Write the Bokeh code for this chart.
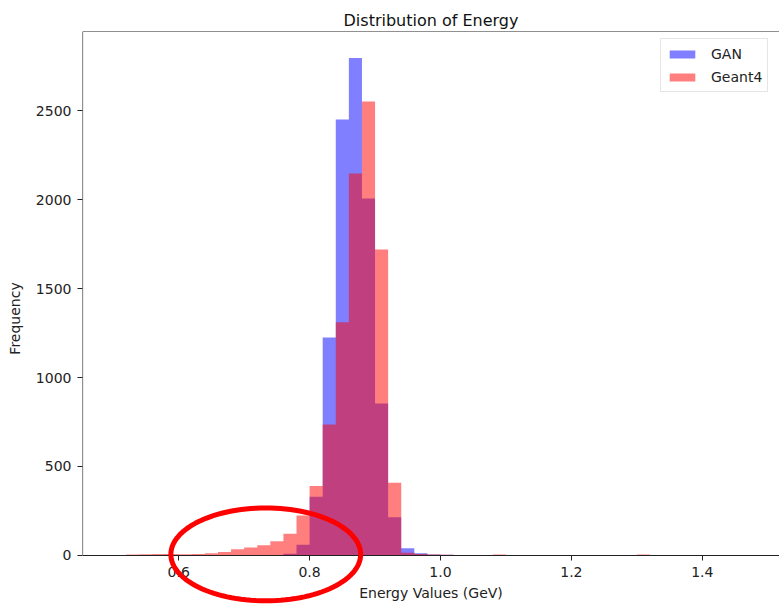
import numpy as np
from bokeh.plotting import figure
from bokeh.models import (FixedTicker, PolyAnnotation, Legend, LegendItem,
                          BoxAnnotation, PrintfTickFormatter)
from bokeh.embed import file_html
from bokeh.resources import INLINE

# ---- data ----
bin_edges = [0.50, 0.52, 0.54, 0.56, 0.58, 0.60, 0.62, 0.64, 0.66, 0.68,
             0.70, 0.72, 0.74, 0.76, 0.78, 0.80, 0.82, 0.84, 0.86, 0.88,
             0.90, 0.92, 0.94, 0.96, 0.98, 1.00, 1.02, 1.04, 1.06, 1.08,
             1.10, 1.12, 1.14, 1.16, 1.18, 1.20, 1.22, 1.24, 1.26, 1.28,
             1.30, 1.32, 1.34, 1.36, 1.38, 1.40, 1.42, 1.44, 1.46, 1.48, 1.50]

gan_counts = [0, 0, 0, 0, 0, 0, 0, 0, 0, 0,
              0, 1, 3, 10, 60, 330, 1225, 2449, 2795, 2006,
              854, 215, 40, 12, 6, 4, 3, 2, 1, 1,
              0, 0, 0, 0, 0, 0, 0, 0, 0, 0,
              0, 0, 0, 0, 0, 0, 0, 0, 0, 0]

geant4_counts = [3, 5, 7, 8, 8, 7, 9, 13, 20, 35,
                 45, 58, 80, 122, 225, 390, 736, 1310, 2146, 2551,
                 1719, 408, 15, 8, 5, 4, 3, 2, 1, 5,
                 1, 0, 0, 0, 0, 0, 0, 0, 0, 0,
                 5, 0, 0, 0, 0, 0, 0, 0, 0, 0]

x_ticks = [0.6, 0.8, 1.0, 1.2, 1.4]
y_ticks = [0, 500, 1000, 1500, 2000, 2500]

title_text = "Distribution of Energy"
x_label = "Energy Values (GeV)"
y_label = "Frequency"
series_names = ["GAN", "Geant4"]

# annotation ellipse (data units)
ell_cx, ell_cy, ell_rx, ell_ry = 0.733, 6.0, 0.145, 261.0

FONT = "DejaVu Sans"
TXT = "#222222"
X0, X1 = 0.453, 1.518
Y_TOP = 2944.0
Y_BOTTOM = -281.0   # room below the axis so the ellipse is not clipped

p = figure(width=779, height=605, x_range=(X0, X1), y_range=(Y_BOTTOM, Y_TOP),
           output_backend="svg", toolbar_location=None,
           min_border_left=82, min_border_right=0, min_border_top=31,
           min_border_bottom=0, title=title_text)

p.title.align = "center"
p.title.text_font = FONT
p.title.text_font_size = "16px"
p.title.text_font_style = "normal"
p.title.text_color = "#111111"
p.title.standoff = 4

p.xgrid.visible = False
p.ygrid.visible = False
p.outline_line_color = None
p.background_fill_color = "white"
p.border_fill_color = "white"

gan_y = gan_counts + [0]
g4_y = geant4_counts + [0]

r_gan = p.varea_step(x=bin_edges, y1=[0] * len(bin_edges), y2=gan_y,
                     step_mode="after", fill_color="blue", fill_alpha=0.5)
r_g4 = p.varea_step(x=bin_edges, y1=[0] * len(bin_edges), y2=g4_y,
                    step_mode="after", fill_color="red", fill_alpha=0.5)

# axes frame (spines) from y=0 to the top; right spine lies just off-canvas
spines = BoxAnnotation(left=X0, right=X1 + 0.01, bottom=0, top=Y_TOP,
                       fill_alpha=0, line_color="#222222", line_width=1.2,
                       line_alpha=1)
p.add_layout(spines)

for ax, ticks in ((p.xaxis, x_ticks), (p.yaxis, y_ticks)):
    ax.ticker = FixedTicker(ticks=ticks)
    ax.major_label_text_font = FONT
    ax.major_label_text_font_size = "14px"
    ax.major_label_text_color = TXT
    ax.axis_label_text_font = FONT
    ax.axis_label_text_font_size = "14px"
    ax.axis_label_text_font_style = "normal"
    ax.axis_label_text_color = TXT
    ax.axis_line_color = None
    ax.major_tick_line_color = "#222222"
    ax.major_tick_out = 5
    ax.major_tick_in = 0
    ax.minor_tick_out = 0
    ax.minor_tick_in = 0

p.xaxis.fixed_location = 0
p.xaxis.formatter = PrintfTickFormatter(format="%.1f")
p.xaxis.axis_label = x_label
p.yaxis.axis_label = y_label
p.xaxis.major_label_standoff = 7
p.xaxis.axis_label_standoff = 4
p.yaxis.major_label_standoff = 6
p.yaxis.axis_label_standoff = 10

# legend
legend = Legend(items=[LegendItem(label=series_names[0], renderers=[r_gan]),
                       LegendItem(label=series_names[1], renderers=[r_g4])],
                location=(578, 513))
legend.label_text_font = FONT
legend.label_text_font_size = "14px"
legend.label_text_color = TXT
legend.glyph_width = 32
legend.glyph_height = 10
legend.label_height = 19
legend.label_standoff = 13
legend.spacing = 4
legend.padding = 5
legend.margin = 0
legend.border_line_color = "#cccccc"
legend.border_line_width = 1
legend.background_fill_color = "white"
legend.background_fill_alpha = 0.8
p.add_layout(legend)

# red ellipse annotation (highlighting the low-energy tail)
t = np.linspace(0, 2 * np.pi, 121)
ell = PolyAnnotation(xs=list(ell_cx + ell_rx * np.cos(t)),
                     ys=list(ell_cy + ell_ry * np.sin(t)),
                     fill_alpha=0, line_color="red", line_width=5,
                     line_alpha=1)
p.add_layout(ell)

open("out.html", "w").write(file_html(p, INLINE))
